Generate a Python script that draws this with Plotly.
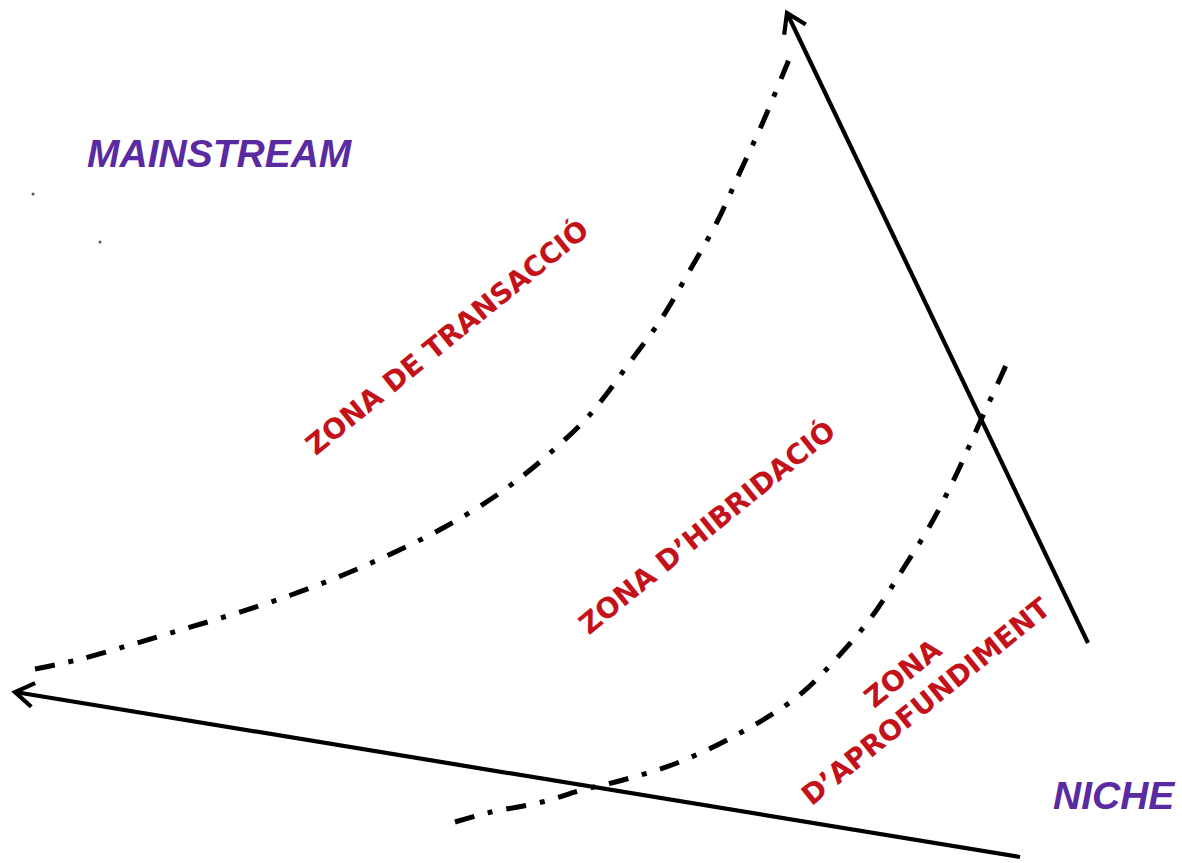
import math
import plotly.graph_objects as go

W, H = 1182, 863

# Dash-dot boundary curves (pixel-space coordinates)
curve1_x = [35, 77, 130, 184, 237, 291, 343, 393, 443, 491, 535, 585, 605, 630, 662, 690, 717, 740, 763, 788, 794]
curve1_y = [669, 660, 645, 629, 613, 595, 575, 553, 528, 499, 466, 420, 396, 362, 318, 270, 222, 172, 122, 62, 48]

curve2_x = [455, 487, 542, 582, 623, 677, 740, 797, 837, 873, 903, 932, 957, 980, 1003, 1006]
curve2_y = [822, 813, 802, 790, 780, 763, 733, 697, 658, 615, 569, 522, 473, 422, 372, 365]

# Axes arrows: (tail_x, tail_y, head_x, head_y)
arrow_tail_x = [1020, 1088]
arrow_tail_y = [857, 643]
arrow_head_x = [15, 787]
arrow_head_y = [692, 13]

# Stray specks
speck_x = [33, 100]
speck_y = [194, 242]

# Labels
pole_labels = ["MAINSTREAM", "NICHE"]
pole_x = [220, 1114]
pole_y = [153, 795]

zone_labels = ["ZONA DE TRANSACCIÓ", "ZONA D’HIBRIDACIÓ", "ZONA<br>D’APROFUNDIMENT"]
zone_x = [447, 707, 914]
zone_y = [337, 527, 687]

fig = go.Figure()

dashpat = "20px,14px,5px,14px"
for cx, cy in [(curve1_x, curve1_y), (curve2_x, curve2_y)]:
    fig.add_trace(go.Scatter(x=cx, y=cy, mode="lines",
                             line=dict(color="black", width=5, dash=dashpat, shape="spline"),
                             hoverinfo="skip", showlegend=False))

fig.add_trace(go.Scatter(x=speck_x, y=speck_y, mode="markers",
                         marker=dict(color="#555555", size=3), hoverinfo="skip", showlegend=False))

ARM = 22.0
HALF = math.radians(33)
for tx, ty, hx, hy in zip(arrow_tail_x, arrow_tail_y, arrow_head_x, arrow_head_y):
    # shaft
    fig.add_trace(go.Scatter(x=[tx, hx], y=[ty, hy], mode="lines",
                             line=dict(color="black", width=4.2),
                             hoverinfo="skip", showlegend=False))
    # open chevron head
    ang = math.atan2(ty - hy, tx - hx)
    a1, a2 = ang + HALF, ang - HALF
    fig.add_trace(go.Scatter(
        x=[hx + ARM * math.cos(a1), hx, hx + ARM * math.cos(a2)],
        y=[hy + ARM * math.sin(a1), hy, hy + ARM * math.sin(a2)],
        mode="lines", line=dict(color="black", width=4.2),
        hoverinfo="skip", showlegend=False))

for t, x, y in zip(pole_labels, pole_x, pole_y):
    fig.add_annotation(x=x, y=y, xref="x", yref="y", text="<b><i>" + t + "</i></b>",
                       showarrow=False,
                       font=dict(family="Liberation Sans, Arial", size=39, color="#5A2AA2"))

for t, x, y in zip(zone_labels, zone_x, zone_y):
    fig.add_annotation(x=x, y=y, xref="x", yref="y", text="<b>" + t + "</b>",
                       showarrow=False, textangle=-39, align="center",
                       font=dict(family="DejaVu Sans", size=28, color="#C4121B"))

fig.update_xaxes(range=[0, W], visible=False, fixedrange=True)
fig.update_yaxes(range=[H, 0], visible=False, fixedrange=True)
fig.update_layout(width=W, height=H, margin=dict(l=0, r=0, t=0, b=0),
                  paper_bgcolor="white", plot_bgcolor="white", showlegend=False)

fig.write_html("out.html", config={"displayModeBar": False},
               post_script="document.body.style.margin='0';")
